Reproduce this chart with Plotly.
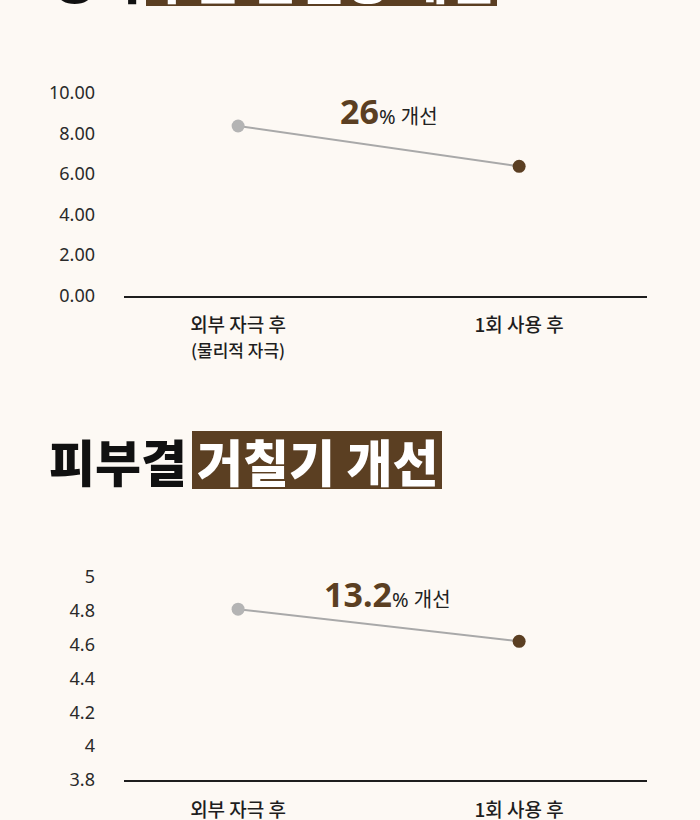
import plotly.graph_objects as go

# ---- data ----
categories = ["외부 자극 후", "1회 사용 후"]
sub_label_first = "(물리적 자극)"
tewl_values = [8.37, 6.38]          # chart 1
roughness_values = [4.81, 4.62]     # chart 2
tewl_ticks = [0, 2, 4, 6, 8, 10]
rough_ticks = [3.8, 4.0, 4.2, 4.4, 4.6, 4.8, 5.0]
tewl_improve = "26"
rough_improve = "13.2"
title1_black, title1_box = "경피", "수분 손실량 개선"
title2_black, title2_box = "피부결", "거칠기 개선"

BG = "#fdf9f4"
BROWN = "#5b3f22"
GRAY = "#b4b4b4"
LINE_GRAY = "#a9a9a9"
DARK = "#1e1e1e"
KFONT = "Noto Sans CJK KR"
NFONT = "Noto Sans, Noto Sans CJK KR"

W, H = 700, 820

def py(pix):  # pixel from top -> paper fraction
    return (H - pix) / H

def px(pix):
    return pix / W

fig = go.Figure()

marker_colors = [GRAY, BROWN]

fig.add_trace(go.Scatter(
    x=categories, y=tewl_values, mode="lines+markers",
    line=dict(color=LINE_GRAY, width=2),
    marker=dict(size=13, color=marker_colors),
    xaxis="x", yaxis="y", showlegend=False, hoverinfo="skip"))

fig.add_trace(go.Scatter(
    x=categories, y=roughness_values, mode="lines+markers",
    line=dict(color=LINE_GRAY, width=2),
    marker=dict(size=13, color=marker_colors),
    xaxis="x2", yaxis="y2", showlegend=False, hoverinfo="skip"))

tick_text_1 = [f"{categories[0]}<br><span style='font-size:17px'>{sub_label_first}</span>", categories[1]]

xcommon = dict(
    type="category", range=[-0.406, 1.455], domain=[px(124), px(647)],
    showline=True, linecolor=DARK, linewidth=1.6, showgrid=False, zeroline=False,
    ticks="", ticklabelstandoff=12, automargin=False,
    tickfont=dict(family=KFONT, size=19, color=DARK, weight=500),
)
ycommon = dict(
    showgrid=False, zeroline=False, showline=False, ticks="",
    ticklabelstandoff=28, automargin=False,
    tickfont=dict(family="Noto Sans", size=18, color="#2a2a2a"),
)

fig.update_layout(
    template="none",
    width=W, height=H, autosize=False,
    margin=dict(l=0, r=0, t=0, b=0, pad=0),
    paper_bgcolor=BG, plot_bgcolor=BG,
    xaxis=dict(**xcommon, anchor="y", tickvals=categories, ticktext=tick_text_1),
    yaxis=dict(**ycommon, anchor="x", domain=[py(295.5), py(93)], range=[0, 10],
               tickvals=tewl_ticks, tickformat=".2f"),
    xaxis2=dict(**xcommon, anchor="y2", tickvals=categories, ticktext=categories),
    yaxis2=dict(**ycommon, anchor="x2", domain=[py(780), py(577)], range=[3.8, 5.0],
                tickvals=rough_ticks),
)

# improvement labels
fig.add_annotation(
    x=0.537, y=9.12, xref="x", yref="y", showarrow=False,
    text=f"<b>{tewl_improve}</b><span style='font-size:20px;color:#222'>% 개선</span>",
    font=dict(family=NFONT, size=34, color=BROWN))
fig.add_annotation(
    x=0.533, y=4.9, xref="x2", yref="y2", showarrow=False,
    text=f"<b>{rough_improve}</b><span style='font-size:20px;color:#222'>% 개선</span>",
    font=dict(family=NFONT, size=34, color=BROWN))

# section titles: black word + white words on a brown box
def add_title(black, boxed, box_top, box_bottom, left_black, box_left, box_right):
    center = (box_top + box_bottom) / 2
    fig.add_shape(type="rect", xref="paper", yref="paper", layer="below",
                  x0=px(box_left), x1=px(box_right), y0=py(box_bottom), y1=py(box_top),
                  fillcolor=BROWN, line=dict(width=0))
    fig.add_annotation(
        x=px(left_black), y=py(center), xref="paper", yref="paper",
        xanchor="left", yanchor="middle", showarrow=False,
        text=black, font=dict(family=KFONT, size=50, color="#111111", weight=900))
    fig.add_annotation(
        x=px((box_left + box_right) / 2), y=py(center), xref="paper", yref="paper",
        xanchor="center", yanchor="middle", showarrow=False,
        text=boxed, font=dict(family=KFONT, size=50, color="#ffffff", weight=900))

add_title(title1_black, title1_box, -52, 6, 47, 146, 497)
add_title(title2_black, title2_box, 431, 489, 47, 192, 442)

fig.write_html("out.html")
